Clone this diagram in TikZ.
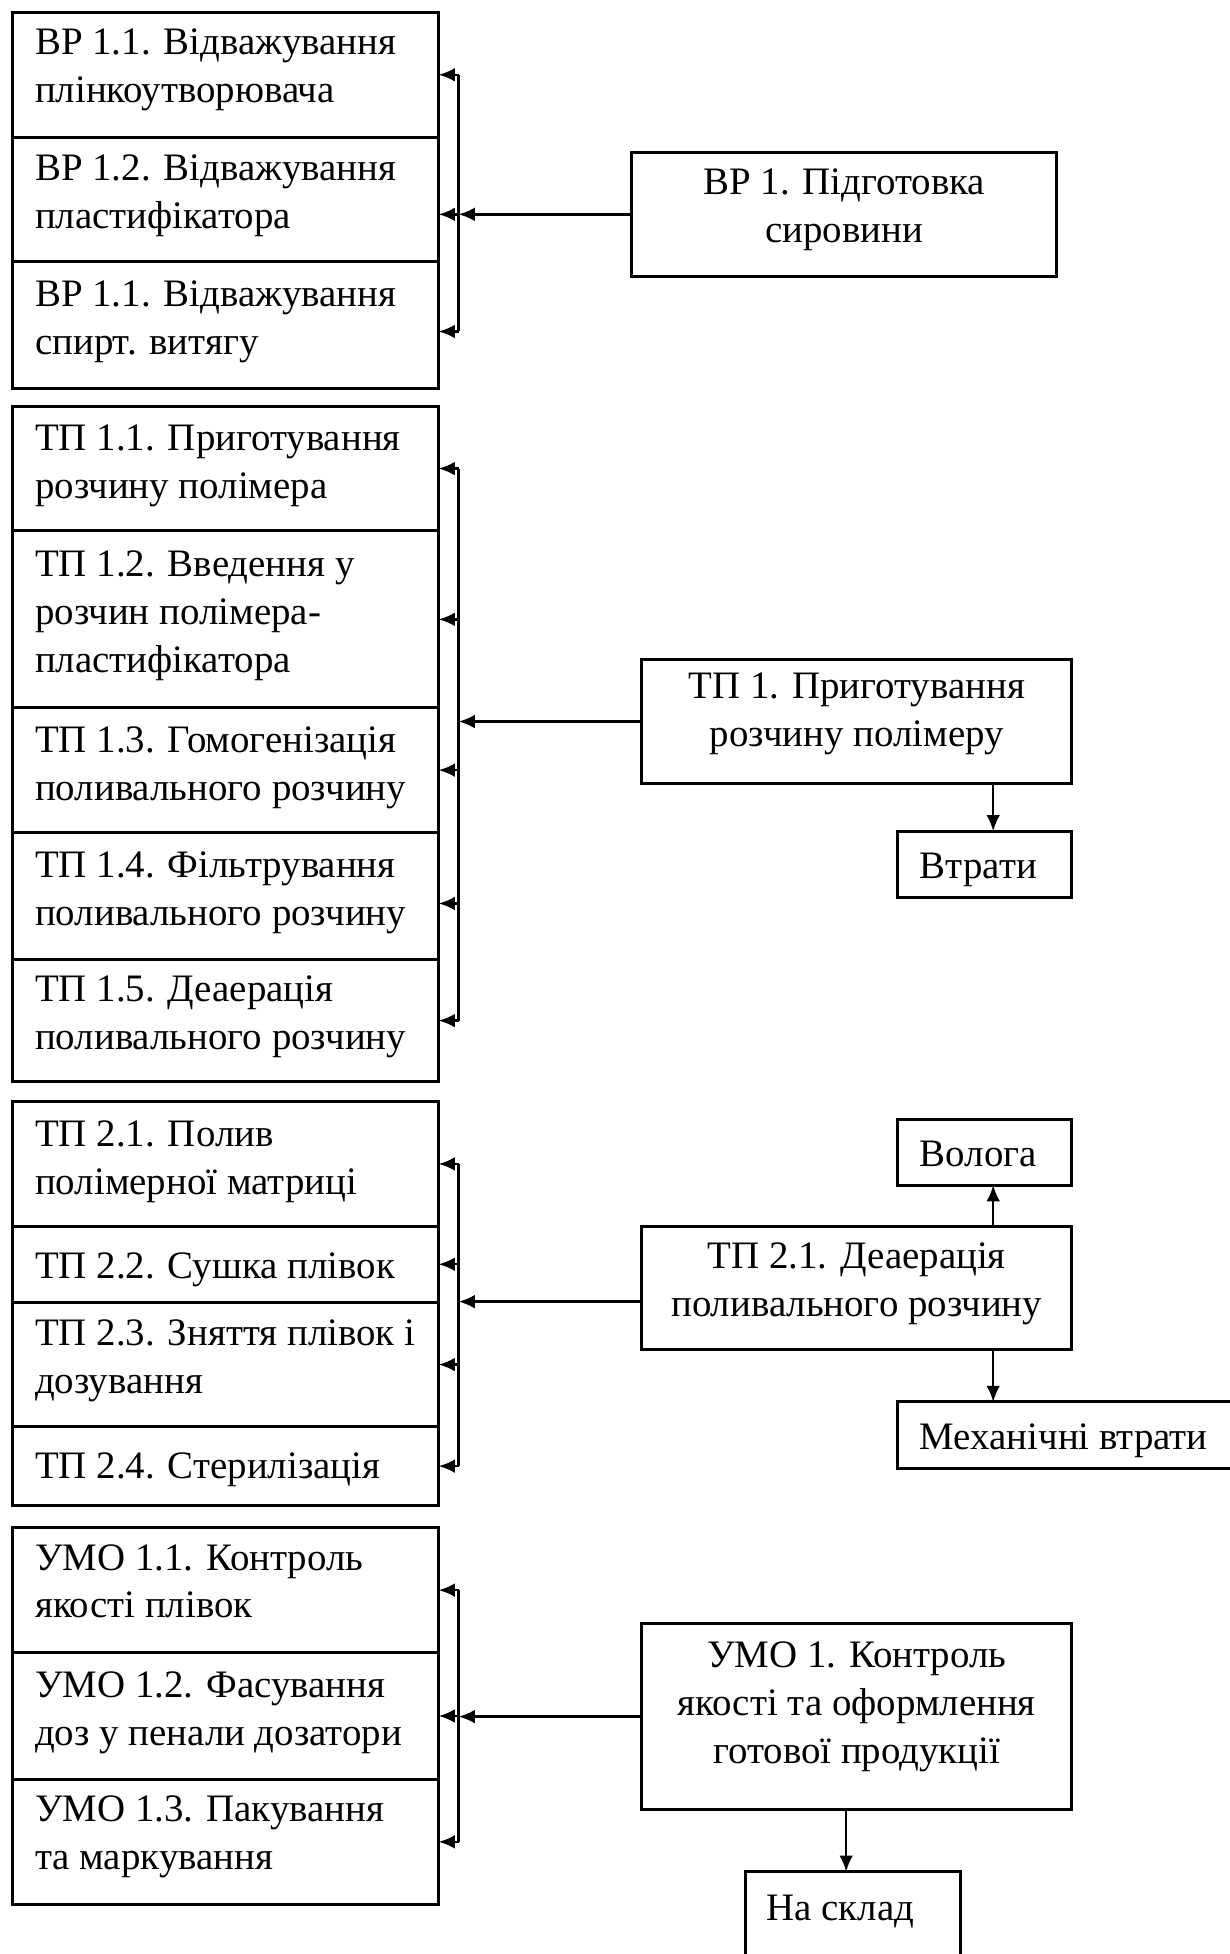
\documentclass[tikz,border=0pt]{standalone}
\usepackage{fontspec}
\setmainfont{Liberation Serif}
\usetikzlibrary{arrows.meta,calc}
\newcommand\mkbox[5]{\node[box,minimum width=#4pt,minimum height=#5pt] (#1) at (#2,#3) {};}
\begin{document}
\begin{tikzpicture}[x=1pt,y=-1pt,
  box/.style={draw,line width=2.4pt,inner sep=0pt,outer sep=0pt,anchor=north west},
  txt/.style={inner sep=0pt,anchor=north west,align=left,font=\fontsize{31.2}{38.5}\selectfont,execute at begin node={\rule{0pt}{24pt}}},
  ctxt/.style={txt,anchor=north,align=center},
  ln/.style={line width=1.9pt},
  arr/.style={line width=1.9pt,-{Latex[length=13pt,width=11pt]}}]
\useasboundingbox (0,0) rectangle (987,1568);
\clip (0,0) rectangle (987,1568);
\coordinate (bx) at (368,0);
\coordinate (c1) at (797,0);
\coordinate (c2) at (679,0);
% ---------------- group 1
\mkbox{vr11}{10}{10}{342}{100}
\mkbox{vr12}{10}{110}{342}{100}
\mkbox{vr13}{10}{210}{342}{102}
\mkbox{vr1}{507}{122}{341}{100}
\node[txt] (tvr11) at ($(vr11.north west)+(18,13)$) {ВР 1.1. Відважування\\плінкоутворювача};
\node[txt] (tvr12) at ($(vr12.north west)+(18,14)$) {ВР 1.2. Відважування\\пластифікатора};
\node[txt] (tvr13) at ($(vr13.north west)+(18,15)$) {ВР 1.1. Відважування\\спирт. витягу};
\node[ctxt] (tvr1) at ($(vr1.north)+(0,13)$) {ВР 1. Підготовка\\сировини};
\coordinate (a13) at ($(vr13.east)+(0,5)$);
\draw[ln] (bx |- vr11.east) -- (bx |- a13);
\draw[arr] (bx |- vr11.east) -- (vr11.east);
\draw[arr] (bx |- vr1.west) -- (vr12.east |- vr1.west);
\draw[arr] (bx |- a13) -- (a13);
\draw[arr] (vr1.west) -- (bx |- vr1.west);
% ---------------- group 2
\mkbox{tp11}{10}{326}{342}{100}
\mkbox{tp12}{10}{426}{342}{142}
\mkbox{tp13}{10}{568}{342}{100}
\mkbox{tp14}{10}{668}{342}{102}
\mkbox{tp15}{10}{770}{342}{98}
\mkbox{tp1}{515}{529}{345}{100}
\mkbox{vtr}{720}{667}{140}{53}
\node[txt] (ttp11) at ($(tp11.north west)+(18,15)$) {ТП 1.1. Приготування\\розчину полімера};
\node[txt] (ttp12) at ($(tp12.north west)+(18,16)$) {ТП 1.2. Введення у\\розчин полімера-\\пластифікатора};
\node[txt] (ttp13) at ($(tp13.north west)+(18,15)$) {ТП 1.3. Гомогенізація\\поливального розчину};
\node[txt] (ttp14) at ($(tp14.north west)+(18,15)$) {ТП 1.4. Фільтрування\\поливального розчину};
\node[txt] (ttp15) at ($(tp15.north west)+(18,13)$) {ТП 1.5. Деаерація\\поливального розчину};
\node[ctxt] (ttp1) at ($(tp1.north)+(0,11)$) {ТП 1. Приготування\\розчину полімеру};
\node[txt] (tvtr) at ($(vtr.north west)+(18,14)$) {Втрати};
\coordinate (a14) at ($(tp14.east)+(0,6)$);
\draw[ln] (bx |- tp11.east) -- (bx |- tp15.east);
\draw[arr] (bx |- tp11.east) -- (tp11.east);
\draw[arr] (bx |- tp12.east) -- (tp12.east);
\draw[arr] (bx |- tp13.east) -- (tp13.east);
\draw[arr] (bx |- a14) -- (a14);
\draw[arr] (bx |- tp15.east) -- (tp15.east);
\draw[arr] (tp1.west) -- (bx |- tp1.west);
\draw[arr] (tp1.south -| c1) -- (vtr.north -| c1);
% ---------------- group 3
\mkbox{tp21}{10}{884}{342}{100}
\mkbox{tp22}{10}{984}{342}{61}
\mkbox{tp23}{10}{1045}{342}{100}
\mkbox{tp24}{10}{1145}{342}{63}
\mkbox{tp2}{515}{984}{345}{99}
\mkbox{vol}{720}{898}{140}{53}
\mkbox{mech}{720}{1125}{300}{53}
\node[txt] (ttp21) at ($(tp21.north west)+(18,15)$) {ТП 2.1. Полив\\полімерної матриці};
\node[txt] (ttp22) at ($(tp22.north west)+(18,18)$) {ТП 2.2. Сушка плівок};
\node[txt] (ttp23) at ($(tp23.north west)+(18,14)$) {ТП 2.3. Зняття плівок і\\дозування};
\node[txt] (ttp24) at ($(tp24.north west)+(18,17)$) {ТП 2.4. Стерилізація};
\node[ctxt] (ttp2) at ($(tp2.north)+(0,13)$) {ТП 2.1. Деаерація\\поливального розчину};
\node[txt] (tvol) at ($(vol.north west)+(18,14)$) {Волога};
\node[txt] (tmech) at ($(mech.north west)+(18,14)$) {Механічні втрати};
\coordinate (m2) at ($(tp2.west)+(0,11)$);
\draw[ln] (bx |- tp21.east) -- (bx |- tp24.east);
\draw[arr] (bx |- tp21.east) -- (tp21.east);
\draw[arr] (bx |- tp22.east) -- (tp22.east);
\draw[arr] (bx |- tp23.east) -- (tp23.east);
\draw[arr] (bx |- tp24.east) -- (tp24.east);
\draw[arr] (m2) -- (bx |- m2);
\draw[arr] (tp2.north -| c1) -- (vol.south -| c1);
\draw[arr] (tp2.south -| c1) -- (mech.north -| c1);
% ---------------- group 4
\mkbox{umo11}{10}{1226}{342}{100}
\mkbox{umo12}{10}{1326}{342}{102}
\mkbox{umo13}{10}{1428}{342}{100}
\mkbox{umo1}{515}{1303}{345}{149}
\mkbox{skl}{598}{1502}{173}{100}
\node[txt] (tumo11) at ($(umo11.north west)+(18,13)$) {УМО 1.1. Контроль\\якості плівок};
\node[txt] (tumo12) at ($(umo12.north west)+(18,15)$) {УМО 1.2. Фасування\\доз у пенали дозатори};
\node[txt] (tumo13) at ($(umo13.north west)+(18,13)$) {УМО 1.3. Пакування\\та маркування};
\node[ctxt] (tumo1) at ($(umo1.north)+(0,14)$) {УМО 1. Контроль\\якості та оформлення\\готової продукції};
\node[txt] (tskl) at ($(skl.north west)+(17,15)$) {На склад};
\draw[ln] (bx |- umo11.east) -- (bx |- umo13.east);
\draw[arr] (bx |- umo11.east) -- (umo11.east);
\draw[arr] (bx |- umo12.east) -- (umo12.east);
\draw[arr] (bx |- umo13.east) -- (umo13.east);
\draw[arr] (umo1.west) -- (bx |- umo1.west);
\draw[arr] (umo1.south -| c2) -- (skl.north -| c2);
\end{tikzpicture}
\end{document}
